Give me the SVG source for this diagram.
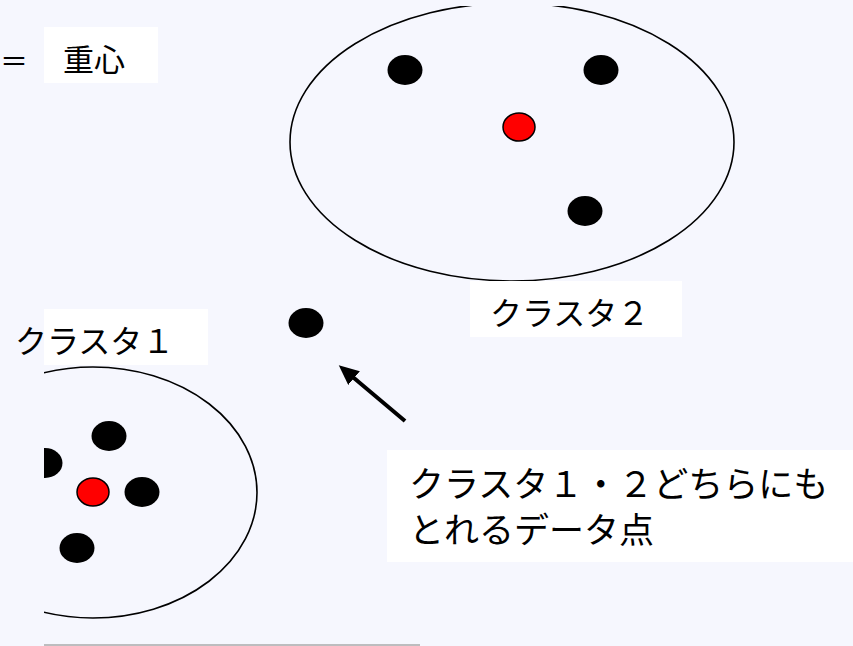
<svg xmlns="http://www.w3.org/2000/svg" width="853" height="646" viewBox="0 0 853 646">
  <style>
    .txt { font-family: "Noto Sans CJK JP", "Liberation Serif", serif; fill: #000; }
    .dot { fill: #000; }
    .center { fill: #ff0000; stroke: #000; stroke-width: 1.5; }
    .cluster { fill: none; stroke: #000; stroke-width: 1.6; }
    .box { fill: #ffffff; }
  </style>
  <defs>
    <clipPath id="clipTop"><rect x="0" y="6" width="853" height="640"/></clipPath>
    <clipPath id="clipLeft"><rect x="44" y="0" width="809" height="646"/></clipPath>
    <marker id="arrow" markerWidth="20" markerHeight="18" refX="4" refY="9" orient="auto" markerUnits="userSpaceOnUse" viewBox="0 0 20 18">
      <path d="M0,0 L20,9 L0,18 Z" fill="#000"/>
    </marker>
  </defs>
  <rect x="0" y="0" width="853" height="646" fill="#f6f7fe"/>

  <g id="legend">
    <text class="txt" x="0" y="72" font-size="28">＝</text>
    <rect class="box" x="44" y="27" width="114" height="56"/>
    <text class="txt" x="63" y="71" font-size="31">重心</text>
  </g>

  <g id="cluster2">
    <ellipse class="cluster" cx="512" cy="142" rx="222" ry="139" clip-path="url(#clipTop)"/>
    <ellipse class="dot" cx="405" cy="70" rx="17.5" ry="15"/>
    <ellipse class="dot" cx="601" cy="70" rx="17.5" ry="15"/>
    <ellipse class="center" cx="519" cy="127" rx="16" ry="14"/>
    <ellipse class="dot" cx="585" cy="211" rx="17.5" ry="15"/>
  </g>

  <g id="label2">
    <rect class="box" x="470" y="281" width="212" height="56"/>
    <text class="txt" x="490" y="325" font-size="32">クラスタ２</text>
  </g>

  <g id="ambiguous-point">
    <ellipse class="dot" cx="306" cy="323" rx="17.5" ry="15"/>
  </g>

  <g id="label1">
    <rect class="box" x="44" y="309" width="164" height="56"/>
    <text class="txt" x="15" y="353" font-size="32">クラスタ１</text>
  </g>

  <g id="cluster1">
    <g clip-path="url(#clipLeft)">
      <ellipse class="cluster" cx="93" cy="492.5" rx="164" ry="125.5"/>
      <ellipse class="dot" cx="45" cy="463" rx="17.5" ry="15"/>
    </g>
    <ellipse class="dot" cx="109" cy="436" rx="17.5" ry="15"/>
    <ellipse class="center" cx="93" cy="492" rx="16" ry="14"/>
    <ellipse class="dot" cx="142" cy="492" rx="17.5" ry="15"/>
    <ellipse class="dot" cx="77" cy="548" rx="17.5" ry="15"/>
  </g>

  <g id="connectors">
    <line x1="405" y1="421" x2="351" y2="375.5" stroke="#000" stroke-width="4" marker-end="url(#arrow)"/>
  </g>

  <g id="note">
    <rect class="box" x="387" y="450" width="466" height="112"/>
    <text class="txt" x="409" y="497" font-size="35">クラスタ１・２どちらにも</text>
    <text class="txt" x="409" y="543" font-size="35">とれるデータ点</text>
  </g>

  <line x1="44" y1="645" x2="420" y2="645" stroke="#aaaaaa" stroke-width="1.5"/>
</svg>
